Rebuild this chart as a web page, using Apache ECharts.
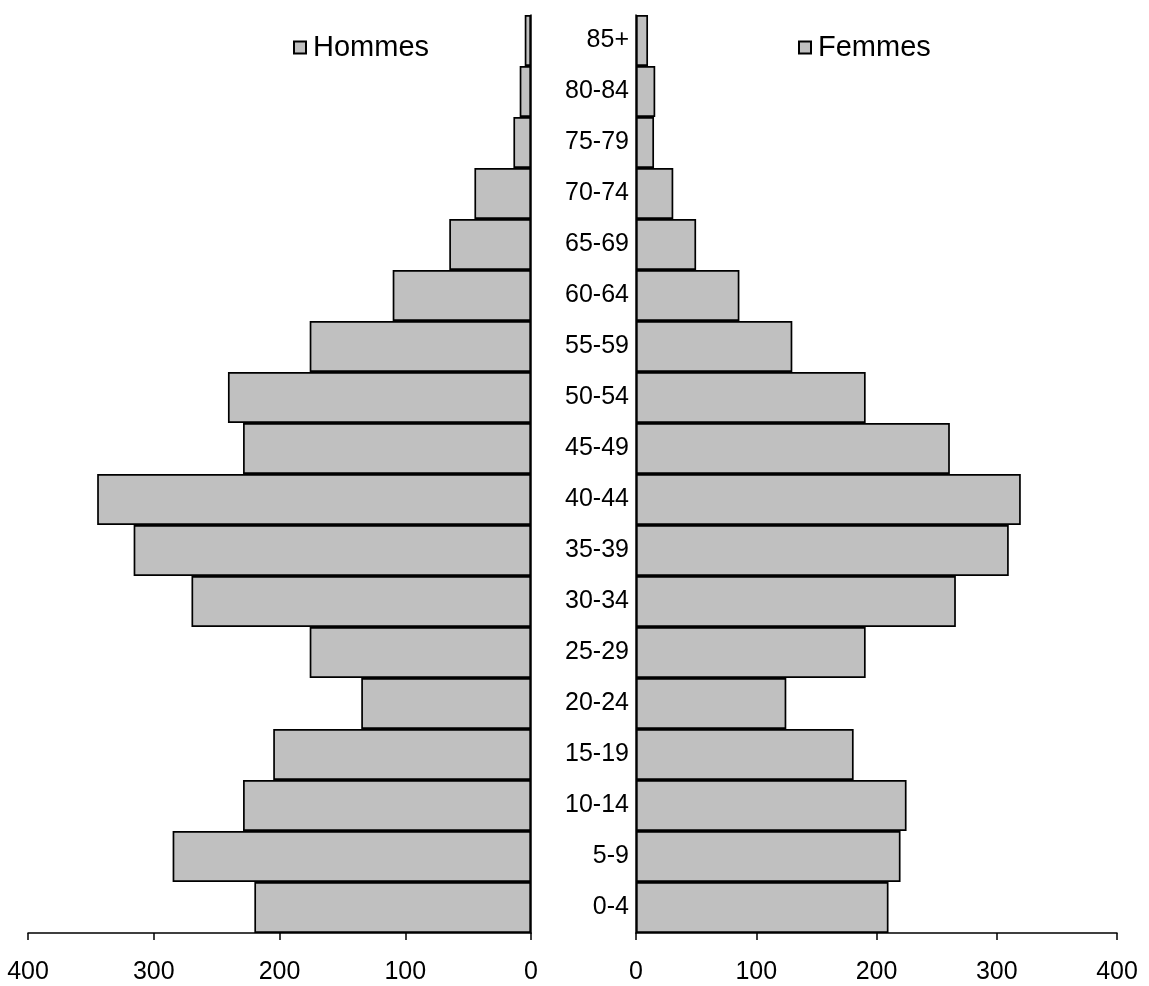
<!DOCTYPE html>
<html>
<head>
<meta charset="utf-8">
<script src="https://cdn.jsdelivr.net/npm/echarts@6/dist/echarts.min.js"></script>
<style>
html,body{margin:0;padding:0;background:#fff;}
#chart{width:1149px;height:986px;}
</style>
</head>
<body>
<div id="chart"></div>
<script>
var categories = ['0-4','5-9','10-14','15-19','20-24','25-29','30-34','35-39','40-44','45-49','50-54','55-59','60-64','65-69','70-74','75-79','80-84','85+'];
var hommes = [220, 285, 229, 205, 135, 176, 270, 316, 345, 229, 241, 176, 110, 65, 45, 14, 9, 5];
var femmes = [210, 220, 225, 181, 125, 191, 266, 310, 320, 261, 191, 130, 86, 50, 31, 15, 16, 10];
var xTicks = [0, 100, 200, 300, 400];

var FONT = '"Liberation Sans", Arial, sans-serif';
var chart = echarts.init(document.getElementById('chart'), null, {renderer: 'canvas'});

function xAxisDef(gridIndex, inverse) {
  return {
    type: 'value', gridIndex: gridIndex, min: xTicks[0], max: xTicks[xTicks.length - 1], interval: 100,
    inverse: inverse,
    axisLine: {show: true, lineStyle: {color: '#000', width: 1.5}},
    axisTick: {show: true, length: 7, lineStyle: {color: '#000', width: 1.5}},
    axisLabel: {color: '#000', fontSize: 25, fontFamily: FONT, margin: 27},
    splitLine: {show: false}
  };
}

chart.setOption({
  animation: false,
  backgroundColor: '#fff',
  grid: [
    {left: 28, right: 618, top: 15, bottom: 53},
    {left: 636, right: 32, top: 15, bottom: 53}
  ],
  legend: [
    {data: ['Hommes'], left: 288, top: 28, icon: 'rect', itemWidth: 12, itemHeight: 12, itemGap: 8,
     textStyle: {fontSize: 29, fontFamily: FONT, color: '#000', padding: [0,0,0,2]}},
    {data: ['Femmes'], left: 793, top: 28, icon: 'rect', itemWidth: 12, itemHeight: 12, itemGap: 8,
     textStyle: {fontSize: 29, fontFamily: FONT, color: '#000', padding: [0,0,0,2]}}
  ],
  xAxis: [xAxisDef(0, true), xAxisDef(1, false)],
  yAxis: [
    {type: 'category', gridIndex: 0, data: categories, position: 'right',
     axisLine: {show: true, lineStyle: {color: '#000', width: 1.5}},
     axisTick: {show: false}, axisLabel: {show: false}},
    {type: 'category', gridIndex: 1, data: categories, position: 'left',
     axisLine: {show: true, lineStyle: {color: '#000', width: 1.5}},
     axisTick: {show: false},
     axisLabel: {color: '#000', fontSize: 25, fontFamily: FONT, margin: 7, align: 'right'}}
  ],
  series: [
    {name: 'Hommes', type: 'bar', xAxisIndex: 0, yAxisIndex: 0, data: hommes,
     barCategoryGap: '0%',
     itemStyle: {color: '#c0c0c0', borderColor: '#000', borderWidth: 1.7}},
    {name: 'Femmes', type: 'bar', xAxisIndex: 1, yAxisIndex: 1, data: femmes,
     barCategoryGap: '0%',
     itemStyle: {color: '#c0c0c0', borderColor: '#000', borderWidth: 1.7}}
  ]
});
</script>
</body>
</html>
